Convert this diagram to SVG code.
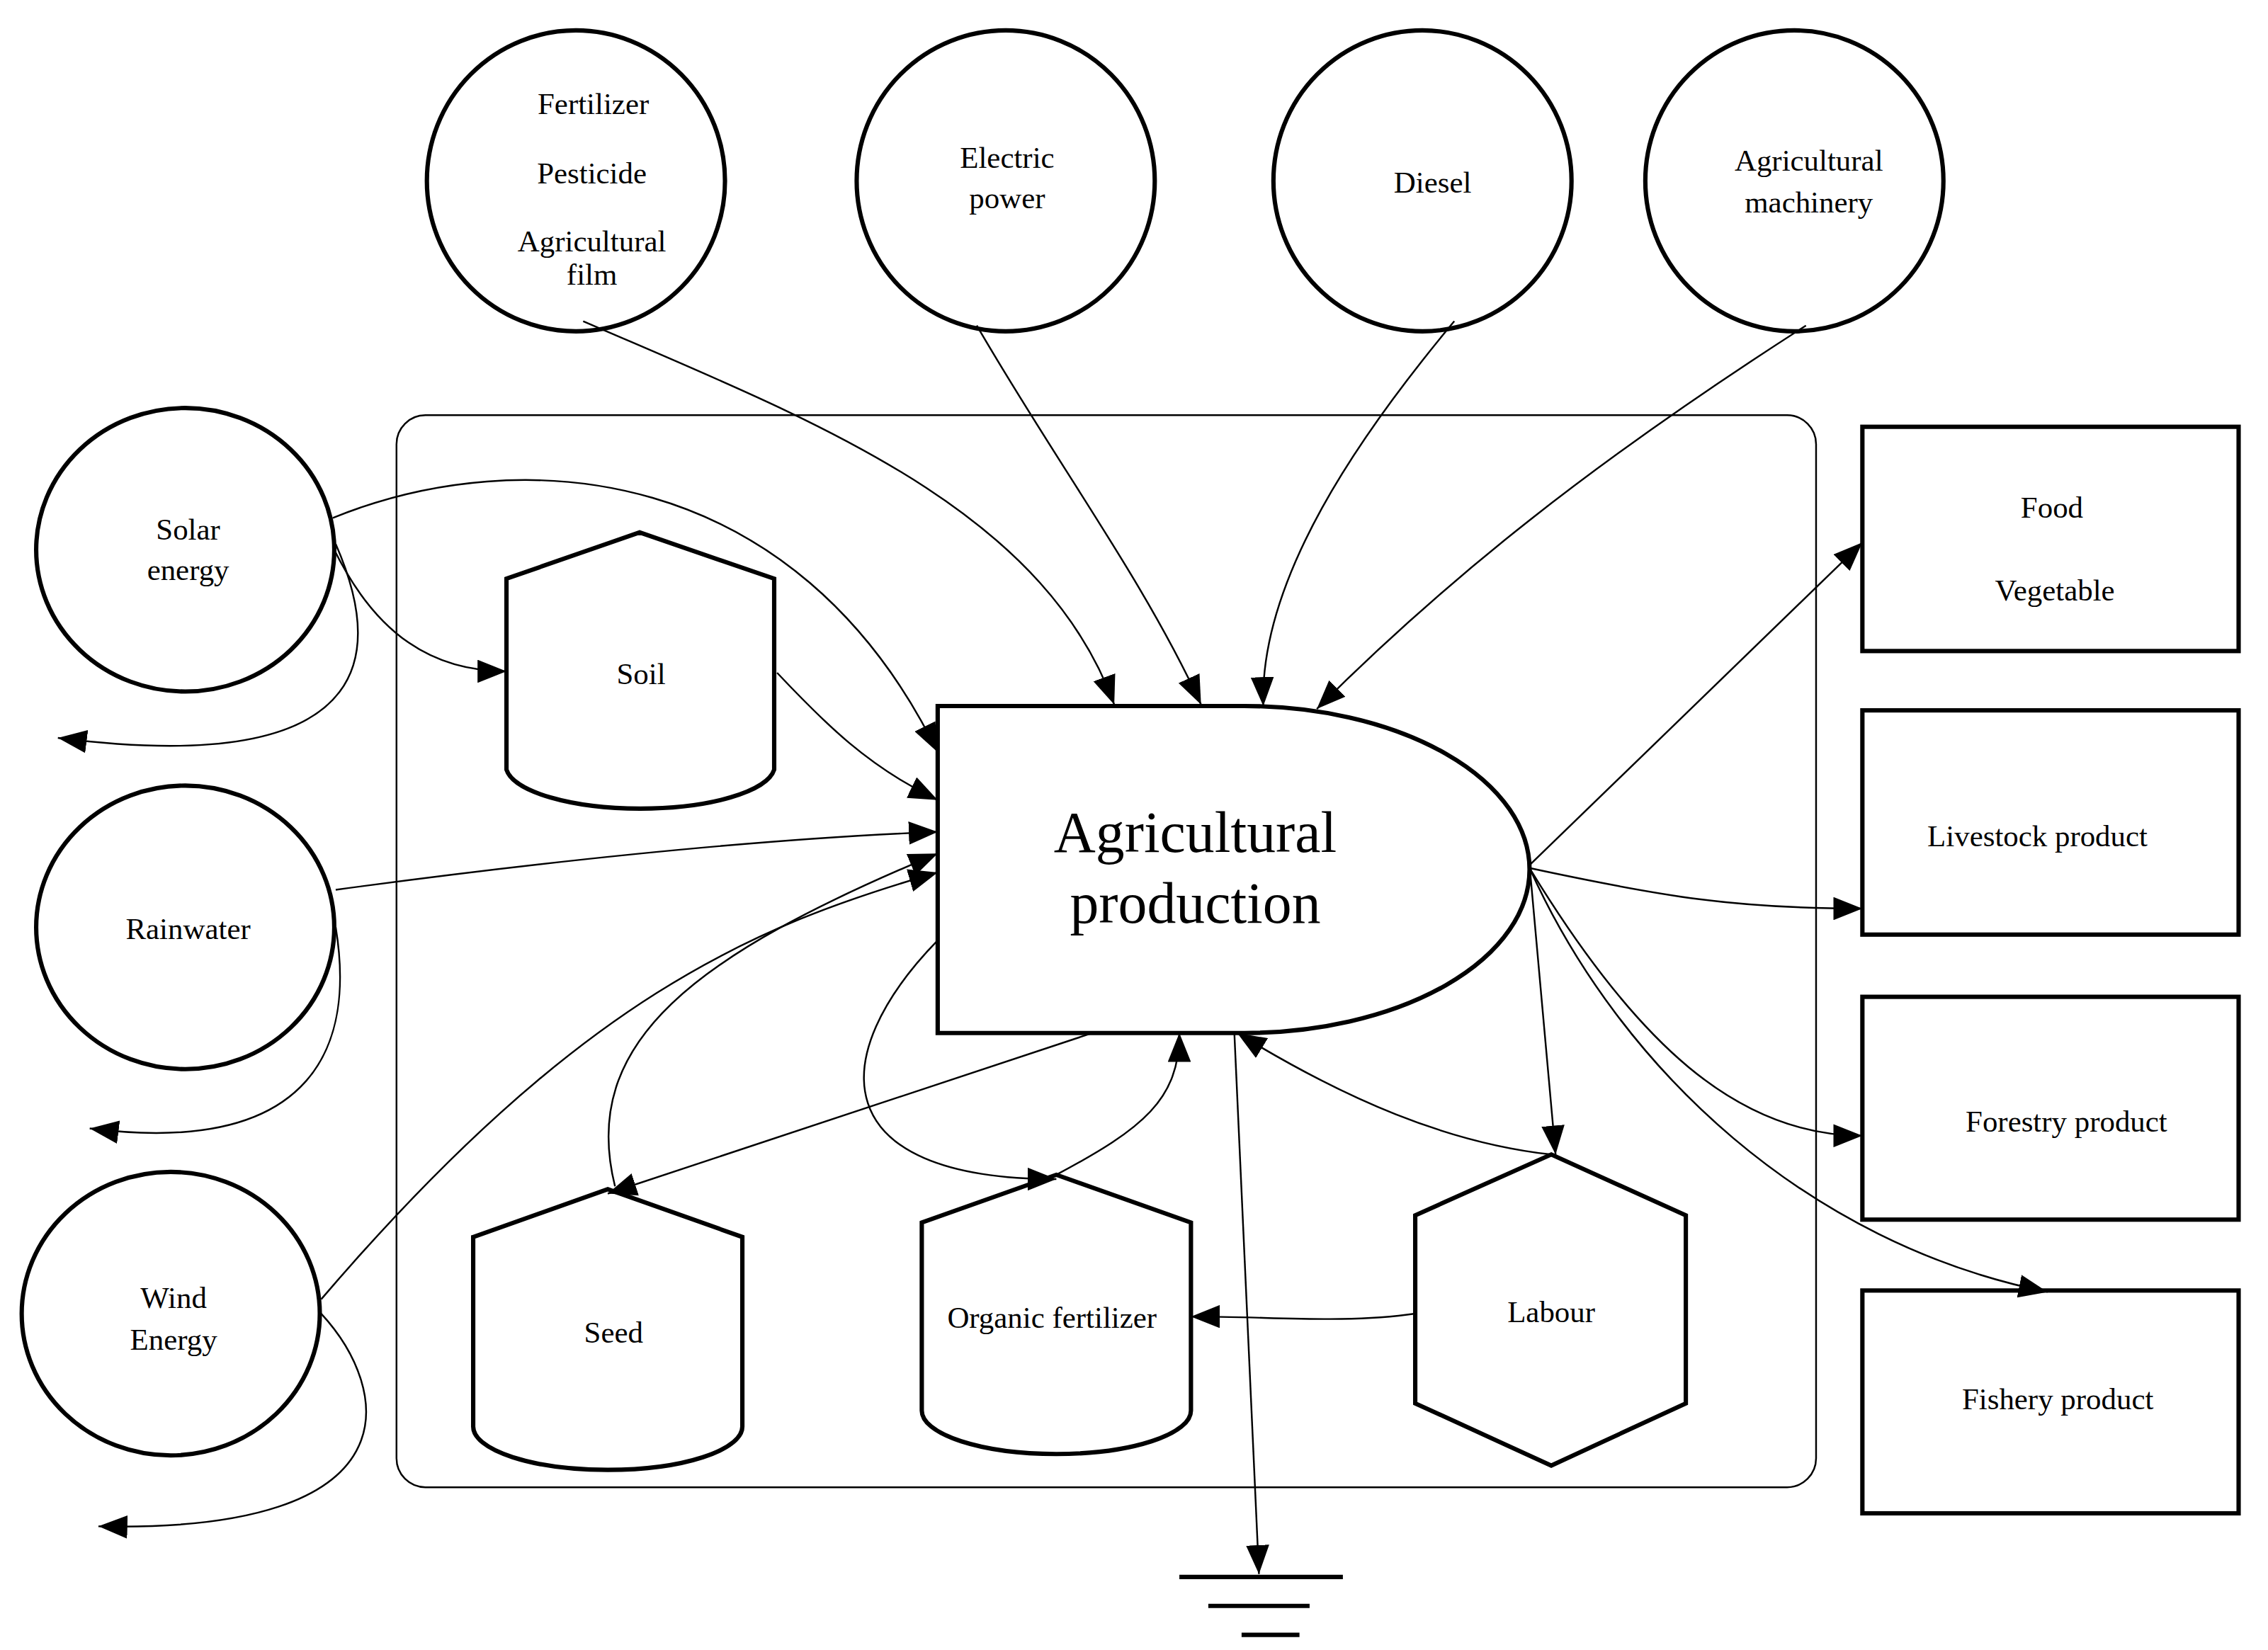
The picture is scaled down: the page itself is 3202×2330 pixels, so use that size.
<svg xmlns="http://www.w3.org/2000/svg" width="3202" height="2330" viewBox="0 0 3202 2330">
<style>
.n{fill:#fff;stroke:#000;stroke-width:3}
.c{fill:none;stroke:#000;stroke-width:1.2}
text{font-family:"Liberation Serif","Times New Roman",serif;font-size:21px;fill:#000;text-anchor:middle}
</style>
<defs>
<marker id="a" markerUnits="userSpaceOnUse" markerWidth="22" markerHeight="16" refX="20" refY="8" orient="auto">
<path d="M0,0 L20,8 L0,16 Z" fill="#000"/>
</marker>
</defs>
<rect width="3202" height="2330" fill="#fff"/>
<g transform="scale(2.043)">
<rect id="system" x="274" y="287" width="981" height="741" rx="20" fill="none" stroke="#000" stroke-width="1.2"/>
<g id="fertilizer"><ellipse class="n" cx="398" cy="125" rx="103" ry="104"/><text x="410" y="79">Fertilizer</text><text x="409" y="127">Pesticide</text><text x="409" y="174">Agricultural</text><text x="409" y="197">film</text></g>
<g id="electric"><ellipse class="n" cx="695" cy="125" rx="103" ry="104"/><text x="696" y="116">Electric</text><text x="696" y="144">power</text></g>
<g id="diesel"><ellipse class="n" cx="983" cy="125" rx="103" ry="104"/><text x="990" y="133">Diesel</text></g>
<g id="machinery"><ellipse class="n" cx="1240" cy="125" rx="103" ry="104"/><text x="1250" y="118">Agricultural</text><text x="1250" y="147">machinery</text></g>
<g id="solar"><ellipse class="n" cx="128" cy="380" rx="103" ry="98"/><text x="130" y="373">Solar</text><text x="130" y="401">energy</text></g>
<g id="rain"><ellipse class="n" cx="128" cy="641" rx="103" ry="98"/><text x="130" y="649">Rainwater</text></g>
<g id="wind"><ellipse class="n" cx="118" cy="908" rx="103" ry="98"/><text x="120" y="904">Wind</text><text x="120" y="933">Energy</text></g>
<g id="food"><rect class="n" x="1287" y="295" width="260" height="155"/><text x="1418" y="358">Food</text><text x="1420" y="415">Vegetable</text></g>
<g id="livestock"><rect class="n" x="1287" y="491" width="260" height="155"/><text x="1408" y="585">Livestock product</text></g>
<g id="forestry"><rect class="n" x="1287" y="689" width="260" height="154"/><text x="1428" y="782">Forestry product</text></g>
<g id="fishery"><rect class="n" x="1287" y="892" width="260" height="154"/><text x="1422" y="974">Fishery product</text></g>
<g id="agri"><path class="n" d="M648,488 H860 A197,113 0 0 1 860,714 H648 Z"/><text x="826" y="589" style="font-size:40px">Agricultural</text><text x="826" y="638" style="font-size:40px">production</text></g>
<g id="soil"><path class="n" d="M350,400 L442,368 L535,400 L535,532 A93,30 0 0 1 350,532 Z"/><text x="443" y="473">Soil</text></g>
<g id="seed"><path class="n" d="M327,855 L420,822 L513,855 L513,986 A93,30 0 0 1 327,986 Z"/><text x="424" y="928">Seed</text></g>
<g id="organic"><path class="n" d="M637,845 L730,812 L823,845 L823,975 A93,30 0 0 1 637,975 Z"/><text x="727" y="918">Organic fertilizer</text></g>
<g id="labour"><path class="n" d="M1072,798 L1165,840 L1165,970 L1072,1013 L978,970 L978,840 Z"/><text x="1072" y="914">Labour</text></g>
<g id="ground" stroke="#000" stroke-width="3"><line x1="815" y1="1090" x2="928" y2="1090"/><line x1="835" y1="1110" x2="905" y2="1110"/><line x1="858" y1="1130" x2="898" y2="1130"/></g>
<g id="connectors" class="c" marker-end="url(#a)">
<path class="c" marker-end="url(#a)" d="M403,222 C560,290 720,350 770,487"/>
<path class="c" marker-end="url(#a)" d="M675,225 C730,320 790,400 830,487"/>
<path class="c" marker-end="url(#a)" d="M1005,222 C940,300 870,400 873,488"/>
<path class="c" marker-end="url(#a)" d="M1248,225 C1100,320 1000,400 910,490"/>
<path class="c" marker-end="url(#a)" d="M230,358 C360,305 550,320 648,520"/>
<path class="c" marker-end="url(#a)" d="M230,378 C260,440 300,464 350,464"/>
<path class="c" marker-end="url(#a)" d="M232,376 C260,440 275,540 40,510"/>
<path class="c" marker-end="url(#a)" d="M537,465 C570,500 600,530 648,553"/>
<path class="c" marker-end="url(#a)" d="M232,615 C380,595 520,580 648,575"/>
<path class="c" marker-end="url(#a)" d="M232,641 C245,720 220,800 62,780"/>
<path class="c" marker-end="url(#a)" d="M222,898 C400,690 520,640 648,603"/>
<path class="c" marker-end="url(#a)" d="M222,908 C270,960 290,1060 68,1055"/>
<path class="c" marker-end="url(#a)" d="M425,820 C400,720 480,660 648,590"/>
<path class="c" marker-end="url(#a)" d="M755,714 L420,825"/>
<path class="c" marker-end="url(#a)" d="M648,650 C570,730 570,815 730,815"/>
<path class="c" marker-end="url(#a)" d="M730,812 C790,780 815,760 815,714"/>
<path class="c" marker-end="url(#a)" d="M1072,798 C1000,790 930,760 855,714"/>
<path class="c" marker-end="url(#a)" d="M978,908 C930,915 880,910 823,910"/>
<path class="c" marker-end="url(#a)" d="M1057,598 L1075,798"/>
<path class="c" marker-end="url(#a)" d="M1057,598 L1287,375"/>
<path class="c" marker-end="url(#a)" d="M1057,600 C1150,620 1200,628 1287,628"/>
<path class="c" marker-end="url(#a)" d="M1057,600 C1130,720 1200,785 1287,785"/>
<path class="c" marker-end="url(#a)" d="M1057,600 C1120,740 1250,860 1415,893"/>
<path class="c" marker-end="url(#a)" d="M853,714 L870,1088"/>
</g>
</g>
</svg>
